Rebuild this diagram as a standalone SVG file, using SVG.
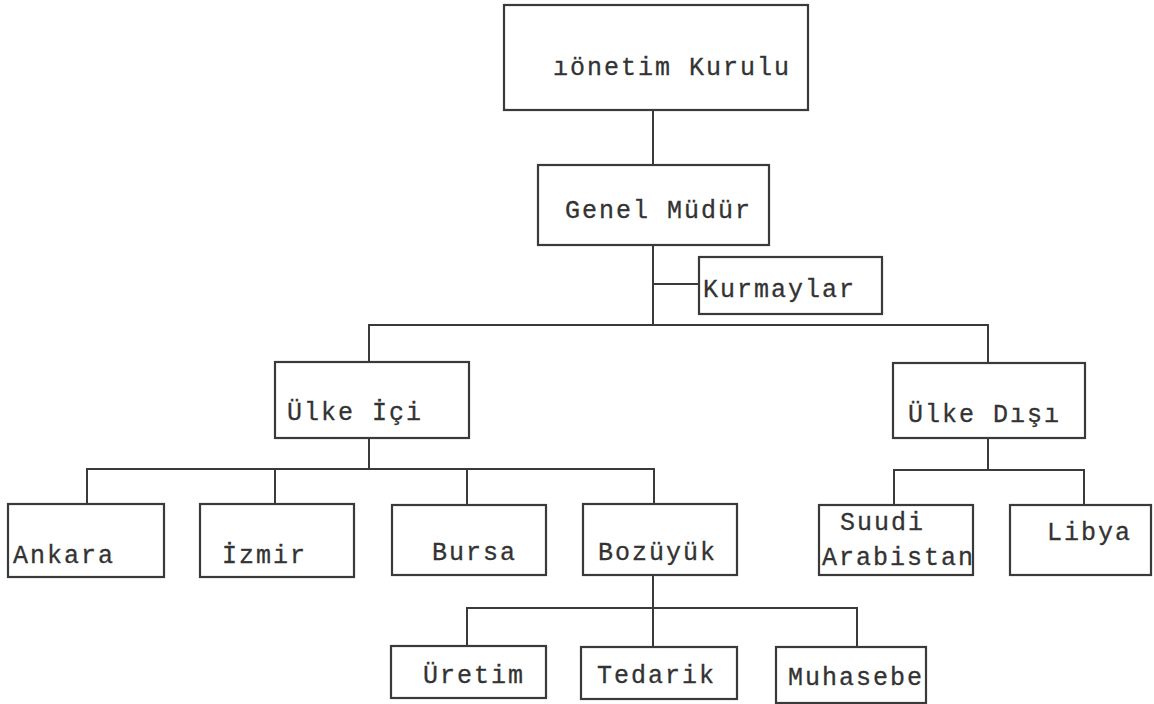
<svg xmlns="http://www.w3.org/2000/svg" width="1154" height="704" viewBox="0 0 1154 704">
<style>
.box{fill:none;stroke:#3a3a3a;stroke-width:2.2}
.lbl{font-family:"Liberation Mono","DejaVu Sans Mono",monospace;font-size:25px;letter-spacing:2px;fill:#333;stroke:#333;stroke-width:0.3}
.con{fill:none;stroke:#3a3a3a;stroke-width:2}
</style>
<rect width="1154" height="704" fill="#ffffff"/>
<g id="connectors" class="con">
<path d="M653,110 V165"/>
<path d="M653,245 V325"/>
<path d="M653,284 H699"/>
<path d="M369,362 V325 H988 V363"/>
<path d="M369,438 V469"/>
<path d="M87,504 V469 H654 V504"/>
<path d="M275,469 V504"/>
<path d="M467,469 V505"/>
<path d="M988,438 V470"/>
<path d="M894,505 V470 H1084 V505"/>
<path d="M653,575 V647"/>
<path d="M467,646 V608 H857 V647"/>
</g>
<g id="yonetim-kurulu"><rect class="box" x="504" y="5" width="304" height="105"/><text class="lbl" x="553" y="75">ıönetim Kurulu</text></g>
<g id="genel-mudur"><rect class="box" x="538" y="165" width="231" height="80"/><text class="lbl" x="565" y="218">Genel Müdür</text></g>
<g id="kurmaylar"><rect class="box" x="699" y="257" width="183" height="57"/><text class="lbl" x="703" y="297">Kurmaylar</text></g>
<g id="ulke-ici"><rect class="box" x="275" y="362" width="194" height="76"/><text class="lbl" x="287" y="420">Ülke İçi</text></g>
<g id="ulke-disi"><rect class="box" x="893" y="363" width="192" height="75"/><text class="lbl" x="908" y="422">Ülke Dışı</text></g>
<g id="ankara"><rect class="box" x="8" y="504" width="156" height="73"/><text class="lbl" x="13" y="563">Ankara</text></g>
<g id="izmir"><rect class="box" x="200" y="504" width="154" height="73"/><text class="lbl" x="222" y="563">İzmir</text></g>
<g id="bursa"><rect class="box" x="392" y="505" width="154" height="70"/><text class="lbl" x="432" y="560">Bursa</text></g>
<g id="bozuyuk"><rect class="box" x="583" y="504" width="154" height="71"/><text class="lbl" x="598" y="560">Bozüyük</text></g>
<g id="suudi-arabistan"><rect class="box" x="819" y="505" width="154" height="70"/><text class="lbl" x="840" y="530">Suudi</text><text class="lbl" x="822" y="565">Arabistan</text></g>
<g id="libya"><rect class="box" x="1010" y="505" width="141" height="70"/><text class="lbl" x="1047" y="540">Libya</text></g>
<g id="uretim"><rect class="box" x="391" y="646" width="155" height="52"/><text class="lbl" x="423" y="683">Üretim</text></g>
<g id="tedarik"><rect class="box" x="581" y="647" width="156" height="52"/><text class="lbl" x="597" y="683">Tedarik</text></g>
<g id="muhasebe"><rect class="box" x="776" y="647" width="150" height="56"/><text class="lbl" x="788" y="685">Muhasebe</text></g>
</svg>
